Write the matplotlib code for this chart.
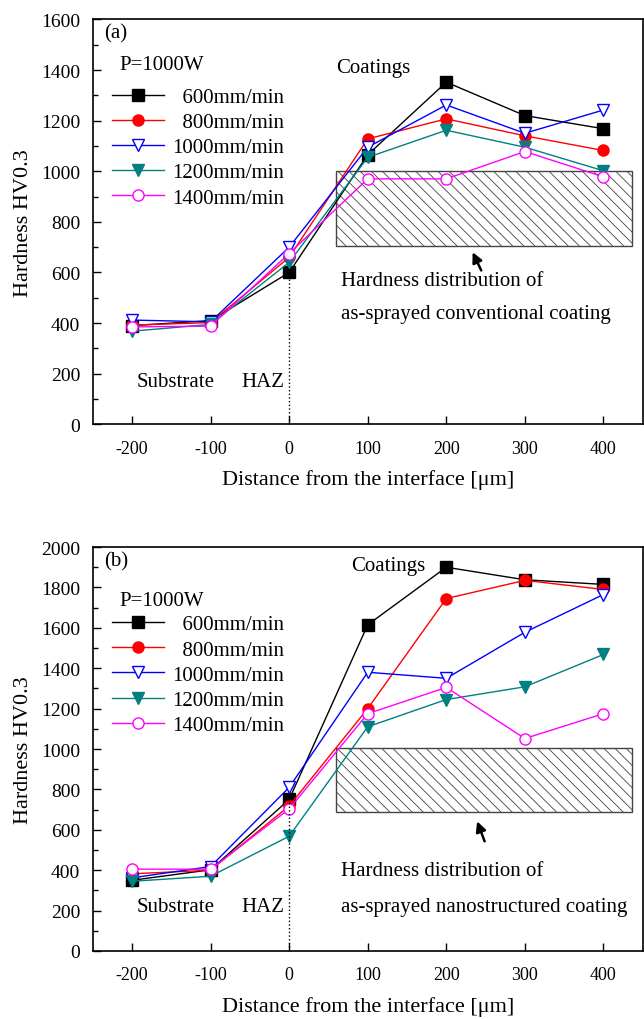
import matplotlib
matplotlib.use('Agg')
import matplotlib.pyplot as plt
from matplotlib.patches import Rectangle
from matplotlib.ticker import MultipleLocator

plt.rcParams['font.family'] = ['Liberation Serif', 'DejaVu Serif']
plt.rcParams['axes.unicode_minus'] = False
plt.rcParams['hatch.linewidth'] = 0.6
plt.rcParams['hatch.color'] = '#555555'

x = [-200, -100, 0, 100, 200, 300, 400]
labels = ['  600mm/min', '  800mm/min', '1000mm/min', '1200mm/min', '1400mm/min']

# (a) conventional coating
a_600 = [390, 410, 600, 1065, 1352, 1220, 1168]
a_800 = [392, 402, 660, 1128, 1207, 1140, 1082]
a_1000 = [412, 405, 700, 1095, 1262, 1150, 1242]
a_1200 = [368, 395, 640, 1055, 1162, 1095, 1002]
a_1400 = [385, 388, 675, 970, 970, 1078, 978]

# (b) nanostructured coating
b_600 = [350, 402, 750, 1615, 1900, 1838, 1815]
b_800 = [382, 400, 718, 1200, 1745, 1835, 1790]
b_1000 = [362, 418, 810, 1380, 1350, 1578, 1765]
b_1200 = [345, 370, 568, 1110, 1245, 1308, 1468]
b_1400 = [405, 405, 703, 1175, 1305, 1052, 1175]

styles = [
    dict(color='black', marker='s', mfc='black'),
    dict(color='red', marker='o', mfc='red'),
    dict(color='blue', marker='v', mfc='white'),
    dict(color='#008080', marker='v', mfc='#008080'),
    dict(color='#ff00ff', marker='o', mfc='white'),
]

fig = plt.figure(figsize=(6.44, 10.2), dpi=100)
ax1 = fig.add_axes([0.144, 0.583, 0.854, 0.397])
ax2 = fig.add_axes([0.144, 0.0667, 0.854, 0.396])


def panel(ax, series, ymax, major, minor, tag, coat_y, coat_x, txt1, txt2, rect, arrow, sub_y, leg_y):
    for ys, lab, st in zip(series, labels, styles):
        ax.plot(x, ys, label=lab, lw=1, ms=8, mew=1, mec=st['color'], **st)
    ax.plot([0, 0], [0, series[0][2]], ls=':', color='black', lw=1)
    ax.add_patch(Rectangle((rect[0], rect[1]), rect[2] - rect[0], rect[3] - rect[1],
                           fill=False, hatch='\\\\\\', edgecolor='#444444', lw=1, zorder=1))
    ax.annotate('', xy=arrow[0], xytext=arrow[1],
                arrowprops=dict(arrowstyle='-|>', color='black', lw=1.8, mutation_scale=15))
    ax.text(66, txt1[0], txt1[1], fontsize=15, va='center')
    ax.text(66, txt2[0], txt2[1], fontsize=15, va='center')
    ax.text(coat_x, coat_y, 'Coatings', fontsize=15, va='center')
    ax.text(-145, sub_y, 'Substrate', fontsize=15, va='center', ha='center')
    ax.text(-6, sub_y, 'HAZ', fontsize=15, va='center', ha='right')
    ax.text(-236, ymax * 0.966, tag, fontsize=15, va='center')
    ax.text(-216, leg_y, 'P=1000W', fontsize=15, va='center')
    ax.set_xlim(-250, 450)
    ax.set_ylim(0, ymax)
    ax.xaxis.set_major_locator(MultipleLocator(100))
    ax.yaxis.set_major_locator(MultipleLocator(major))
    ax.yaxis.set_minor_locator(MultipleLocator(minor))
    ax.tick_params(direction='in', labelsize=13, length=6, width=1)
    ax.tick_params(which='minor', direction='in', length=3.5, width=1)
    ax.tick_params(axis='x', pad=11)
    ax.tick_params(axis='y', pad=9, labelsize=14)
    ax.set_xlabel('Distance from the interface [\u03bcm]', fontsize=16, labelpad=9)
    ax.set_ylabel('Hardness HV0.3', fontsize=16, labelpad=6)
    for s in ax.spines.values():
        s.set_linewidth(1.2)
    ax.legend(loc='upper left', bbox_to_anchor=(0.02, 0.853), frameon=False, fontsize=15,
              handlelength=2.5, labelspacing=0.27, handletextpad=0.4, borderaxespad=0)


panel(ax1, [a_600, a_800, a_1000, a_1200, a_1400], 1600, 200, 100, '(a)',
      1410, 60, (569, 'Hardness distribution of'), (438, 'as-sprayed conventional coating'),
      (60, 705, 437, 1000), ((232, 690), (246, 598)), 170, 1422)
panel(ax2, [b_600, b_800, b_1000, b_1200, b_1400], 2000, 200, 100, '(b)',
      1911, 79, (396, 'Hardness distribution of'), (218, 'as-sprayed nanostructured coating'),
      (60, 690, 437, 1003), ((238, 655), (250, 530)), 218, 1737)

fig.savefig('out.png', dpi=100)
